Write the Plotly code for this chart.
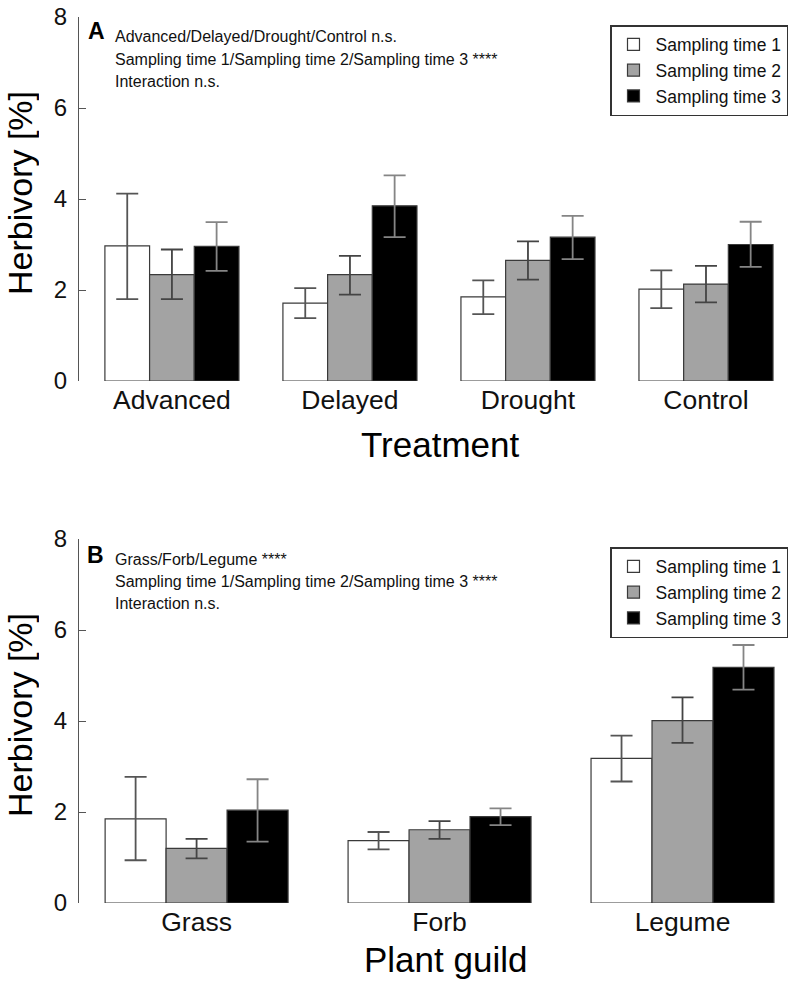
import plotly.graph_objects as go

# ---------------- data ----------------
series_names = ["Sampling time 1", "Sampling time 2", "Sampling time 3"]

treatments = ["Advanced", "Delayed", "Drought", "Control"]
trt_t1 = [2.97, 1.71, 1.85, 2.02]
trt_t1_hi = [4.12, 2.04, 2.21, 2.43]
trt_t1_lo = [1.80, 1.38, 1.47, 1.60]
trt_t2 = [2.34, 2.34, 2.65, 2.13]
trt_t2_hi = [2.89, 2.75, 3.07, 2.53]
trt_t2_lo = [1.80, 1.90, 2.23, 1.73]
trt_t3 = [2.96, 3.85, 3.16, 3.00]
trt_t3_hi = [3.49, 4.52, 3.63, 3.50]
trt_t3_lo = [2.42, 3.16, 2.68, 2.51]

guilds = ["Grass", "Forb", "Legume"]
gld_t1 = [1.85, 1.37, 3.18]
gld_t1_hi = [2.77, 1.56, 3.68]
gld_t1_lo = [0.94, 1.18, 2.67]
gld_t2 = [1.20, 1.61, 4.01]
gld_t2_hi = [1.41, 1.80, 4.52]
gld_t2_lo = [0.98, 1.41, 3.52]
gld_t3 = [2.04, 1.90, 5.18]
gld_t3_hi = [2.72, 2.08, 5.67]
gld_t3_lo = [1.35, 1.71, 4.69]

y_ticks = [0, 2, 4, 6, 8]

top_lines = ["Advanced/Delayed/Drought/Control n.s.",
             "Sampling time 1/Sampling time 2/Sampling time 3 ****",
             "Interaction n.s."]
bot_lines = ["Grass/Forb/Legume ****",
             "Sampling time 1/Sampling time 2/Sampling time 3 ****",
             "Interaction n.s."]

# ---------------- style ----------------
W, H = 797, 986
FONT = "Liberation Sans, Arial, sans-serif"
fills = ["#ffffff", "#a3a3a3", "#000000"]
err_cols = ["#555555", "#444444", "#858585"]
edge = "#3a3a3a"

fig = go.Figure()


def add_group(cats, means, his, los, xa, ya, legend):
    for i in range(3):
        m, hi, lo = means[i], his[i], los[i]
        fig.add_trace(go.Bar(
            x=cats, y=m, name=series_names[i],
            xaxis=xa, yaxis=ya, legend=legend,
            marker=dict(color=fills[i], line=dict(color=edge, width=1.2)),
            error_y=dict(type="data", symmetric=False,
                         array=[h - v for h, v in zip(hi, m)],
                         arrayminus=[v - l for l, v in zip(lo, m)],
                         color=err_cols[i], thickness=1.8, width=11),
        ))


add_group(treatments, [trt_t1, trt_t2, trt_t3],
          [trt_t1_hi, trt_t2_hi, trt_t3_hi],
          [trt_t1_lo, trt_t2_lo, trt_t3_lo], "x", "y", "legend")
add_group(guilds, [gld_t1, gld_t2, gld_t3],
          [gld_t1_hi, gld_t2_hi, gld_t3_hi],
          [gld_t1_lo, gld_t2_lo, gld_t3_lo], "x2", "y2", "legend2")


def py(p):  # pixel-from-top -> paper y
    return 1 - p / H


def px(p):  # pixel-from-left -> paper x
    return p / W


xdom = [px(79), px(795)]
top_dom = [py(381), py(17)]
bot_dom = [py(903), py(539)]

yaxis_style = dict(range=[0, 8], tickvals=y_ticks, ticks="inside", ticklen=7,
                   tickcolor="#555555", showline=True, linecolor="#555555",
                   linewidth=1.3, showgrid=False, zeroline=False,
                   automargin=False, ticklabeloverflow="allow",
                   tickfont=dict(size=24, color="#111111", family=FONT),
                   ticklabelstandoff=6)
xaxis_style = dict(type="category", showline=False, ticks="", showgrid=False,
                   zeroline=False, automargin=False,
                   tickfont=dict(size=26.5, color="#111111", family=FONT))

legend_style = dict(x=px(610), xanchor="left", bgcolor="white",
                    bordercolor="#333333", borderwidth=1.5,
                    font=dict(size=17.5, family=FONT, color="#111111"),
                    itemwidth=34, tracegroupgap=0)

fig.update_layout(
    width=W, height=H,
    margin=dict(l=0, r=0, t=0, b=0, autoexpand=False),
    paper_bgcolor="white", plot_bgcolor="white",
    barmode="group", bargap=0.247, bargroupgap=0,
    font=dict(family=FONT, color="#111111"),
    xaxis=dict(domain=xdom, anchor="y", range=[-0.522, 3.5], **xaxis_style),
    yaxis=dict(domain=top_dom, anchor="x", **yaxis_style),
    xaxis2=dict(domain=xdom, anchor="y2", range=[-0.484, 2.463], **xaxis_style),
    yaxis2=dict(domain=bot_dom, anchor="x2", **yaxis_style),
    legend=dict(y=py(25), yanchor="top", **legend_style),
    legend2=dict(y=py(547), yanchor="top", **legend_style),
    showlegend=True,
)

ann = []
for ycen in [193, 715]:
    ann.append(dict(xref="paper", yref="paper", x=px(20), y=py(ycen),
                    text="Herbivory [%]", textangle=-90, showarrow=False,
                    xanchor="center", yanchor="middle", height=38,
                    font=dict(size=34, family=FONT, color="#000000")))
ann.append(dict(xref="paper", yref="paper", x=px(440), y=py(444), text="Treatment",
                showarrow=False, xanchor="center", yanchor="middle",
                font=dict(size=35, family=FONT, color="#000000")))
ann.append(dict(xref="paper", yref="paper", x=px(446), y=py(959), text="Plant guild",
                showarrow=False, xanchor="center", yanchor="middle",
                font=dict(size=35, family=FONT, color="#000000")))
ann.append(dict(xref="paper", yref="paper", x=px(86), y=py(31), text="<b>A</b>",
                showarrow=False, xanchor="left", yanchor="middle",
                font=dict(size=23, family=FONT, color="#000000")))
ann.append(dict(xref="paper", yref="paper", x=px(85), y=py(555), text="<b>B</b>",
                showarrow=False, xanchor="left", yanchor="middle",
                font=dict(size=23, family=FONT, color="#000000")))
for lines, ys in [(top_lines, [37, 59, 81]), (bot_lines, [559, 581, 603])]:
    for txt, yc in zip(lines, ys):
        ann.append(dict(xref="paper", yref="paper", x=px(113), y=py(yc), text=txt,
                        showarrow=False, xanchor="left", yanchor="middle",
                        align="left",
                        font=dict(size=16, family=FONT, color="#111111")))
fig.update_layout(annotations=ann)

fig.write_html("out.html", config={"displayModeBar": False},
               post_script="document.body.style.margin='0px';")
